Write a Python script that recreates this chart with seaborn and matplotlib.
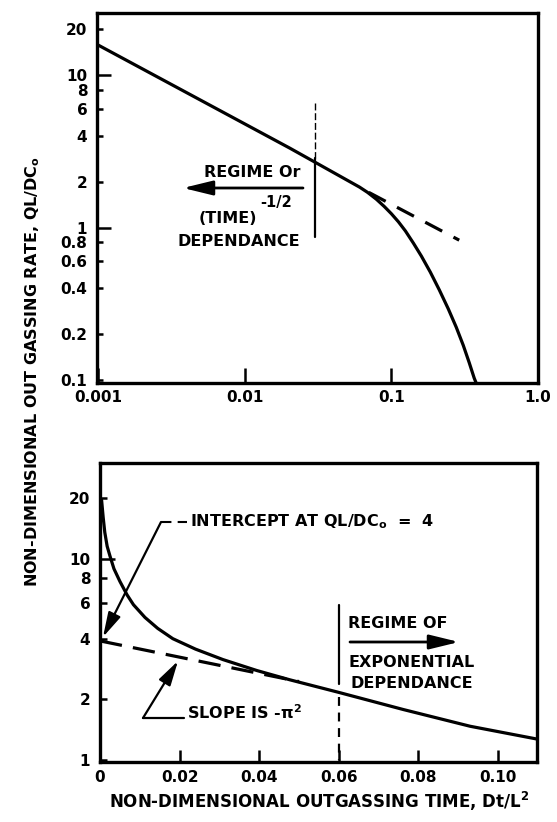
import matplotlib
matplotlib.use("Agg")
import matplotlib.pyplot as plt
import seaborn as sns
import numpy as np
import pandas as pd
from matplotlib.ticker import NullLocator

# ---------------- data ----------------
# Top panel (log-log): outgassing rate vs time
top_t = [0.001, 0.0202, 0.0299, 0.0606, 0.0687, 0.0791, 0.0896, 0.1000, 0.1116,
         0.1245, 0.1412, 0.1600, 0.1842, 0.2121, 0.2442, 0.2768, 0.3090, 0.3394,
         0.3670, 0.3787]
top_rate = [15.7, 3.32, 2.69, 1.84, 1.70, 1.53, 1.37, 1.23, 1.09,
            0.95, 0.79, 0.65, 0.51, 0.39, 0.293, 0.222, 0.169, 0.130,
            0.103, 0.0955]
# continuation of the t^-1/2 line (dashed)
top_asym_t = [0.070, 0.290]
top_asym_rate = [1.70, 0.826]
top_boundary_t = 0.03

top_xticks = [0.001, 0.01, 0.1, 1.0]
top_xticklabels = ["0.001", "0.01", "0.1", "1.0"]
top_yticks_major = [1, 10]
top_yticklabels_major = ["1", "10"]
top_yticks_minor = [0.1, 0.2, 0.4, 0.6, 0.8, 2, 4, 6, 8, 20]
top_yticklabels_minor = ["0.1", "0.2", "0.4", "0.6", "0.8", "2", "4", "6", "8", "20"]

# Bottom panel (semilog): outgassing rate vs time
bot_t = [0.0004, 0.0008, 0.0012, 0.0018, 0.0025, 0.0035, 0.005, 0.0068, 0.0084,
         0.0113, 0.0145, 0.0183, 0.024, 0.0309, 0.0394, 0.0477, 0.0598, 0.0762,
         0.093, 0.1098]
bot_rate = [19.5, 16.0, 13.5, 11.5, 10.3, 8.9, 7.7, 6.6, 5.9,
            5.1, 4.5, 4.0, 3.55, 3.15, 2.78, 2.50, 2.17, 1.78,
            1.47, 1.27]
bot_asym_t = [0.0, 0.05]
bot_asym_rate = [3.9, 2.45]
bot_boundary_t = 0.06

bot_xticks = [0, 0.02, 0.04, 0.06, 0.08, 0.10]
bot_xticklabels = ["0", "0.02", "0.04", "0.06", "0.08", "0.10"]
bot_yticks_major = [10]
bot_yticklabels_major = ["10"]
bot_yticks_minor = [1, 2, 4, 6, 8, 20]
bot_yticklabels_minor = ["1", "2", "4", "6", "8", "20"]

# ---------------- style ----------------
sns.set_theme(style="ticks")
plt.rcParams["font.family"] = ["DejaVu Sans"]
plt.rcParams["font.weight"] = "bold"
plt.rcParams["mathtext.fontset"] = "custom"
plt.rcParams["mathtext.rm"] = "DejaVu Sans:bold"
plt.rcParams["mathtext.it"] = "DejaVu Sans:bold"
plt.rcParams["mathtext.bf"] = "DejaVu Sans:bold"
plt.rcParams["axes.linewidth"] = 2.2
for key in ["text.color", "axes.labelcolor", "xtick.color", "ytick.color",
            "axes.edgecolor"]:
    plt.rcParams[key] = "black"

TICK = 11
ANN = 11.5
LBL = 12
LW = 2.3

fig = plt.figure(figsize=(5.57, 8.22), dpi=100)
W, H = 557, 822
ax1 = fig.add_axes([97 / W, 1 - 383 / H, 441 / W, 370 / H])
ax2 = fig.add_axes([100 / W, 1 - 762 / H, 437 / W, 299 / H])


def tf(px, py):
    return ((px - 97) / 441, (383 - py) / 370)


def bf(px, py):
    return ((px - 100) / 437, (762 - py) / 299)


ARROW_BIG = dict(arrowstyle="-|>,head_length=0.9,head_width=0.22", lw=2,
                 color="black", shrinkA=0, shrinkB=0, mutation_scale=20)
ARROW_SMALL = dict(arrowstyle="-|>,head_length=0.75,head_width=0.2", lw=1.6,
                   color="black", shrinkA=0, shrinkB=0, mutation_scale=20)

# ---------------- top panel ----------------
df_top = pd.DataFrame({"t": top_t, "rate": top_rate})
sns.lineplot(data=df_top, x="t", y="rate", ax=ax1, color="black", lw=LW,
             estimator=None, sort=False)
df_top_a = pd.DataFrame({"t": top_asym_t, "rate": top_asym_rate})
sns.lineplot(data=df_top_a, x="t", y="rate", ax=ax1, color="black", lw=LW,
             estimator=None, sort=False)
ax1.lines[-1].set_dashes([6, 4])

ax1.set_xscale("log")
ax1.set_yscale("log")
ax1.set_xlim(0.00098, 1.0)
ax1.set_ylim(0.0956, 25.5)

# regime boundary
ax1.plot([top_boundary_t] * 2, [6.55, 2.85], color="black", lw=1.0, dashes=[5, 2])
ax1.plot([top_boundary_t] * 2, [2.85, 0.865], color="black", lw=1.6)

ax1.set_xticks(top_xticks)
ax1.set_xticklabels(top_xticklabels)
ax1.xaxis.set_minor_locator(NullLocator())
ax1.set_yticks(top_yticks_major)
ax1.set_yticklabels(top_yticklabels_major)
ax1.set_yticks(top_yticks_minor, minor=True)
ax1.set_yticklabels(top_yticklabels_minor, minor=True)
ax1.tick_params(axis="x", which="major", direction="in", length=11, width=1.8,
                labelsize=TICK, pad=5)
ax1.tick_params(axis="y", which="major", direction="in", length=10, width=1.8,
                labelsize=TICK, pad=7)
ax1.tick_params(axis="y", which="minor", direction="in", length=4, width=1.8,
                labelsize=TICK, pad=7)
ax1.set_xlabel("")
ax1.set_ylabel("")

ax1.text(*tf(301, 172), "REGIME Or", transform=ax1.transAxes, ha="right",
         va="center", fontsize=ANN)
ax1.annotate("", xy=tf(183, 188), xytext=tf(303, 188), xycoords="axes fraction",
             textcoords="axes fraction", arrowprops=ARROW_BIG)
ax1.text(*tf(257, 218), "(TIME)", transform=ax1.transAxes, ha="right",
         va="center", fontsize=ANN)
ax1.text(*tf(260, 202), "-1/2", transform=ax1.transAxes, ha="left",
         va="center", fontsize=ANN - 1)
ax1.text(*tf(300, 241), "DEPENDANCE", transform=ax1.transAxes, ha="right",
         va="center", fontsize=ANN)

# ---------------- bottom panel ----------------
df_bot = pd.DataFrame({"t": bot_t, "rate": bot_rate})
sns.lineplot(data=df_bot, x="t", y="rate", ax=ax2, color="black", lw=LW,
             estimator=None, sort=False)
df_bot_a = pd.DataFrame({"t": bot_asym_t, "rate": bot_asym_rate})
sns.lineplot(data=df_bot_a, x="t", y="rate", ax=ax2, color="black", lw=LW,
             estimator=None, sort=False)
ax2.lines[-1].set_dashes([7, 3.5])

ax2.set_yscale("log")
ax2.set_xlim(0, 0.1098)
ax2.set_ylim(0.977, 29.8)

ax2.plot([bot_boundary_t] * 2, [5.88, 2.38], color="black", lw=1.6)
ax2.plot([bot_boundary_t] * 2, [2.05, 1.0], color="black", lw=1.6, dashes=[4, 3])

ax2.set_xticks(bot_xticks)
ax2.set_xticklabels(bot_xticklabels)
ax2.set_yticks(bot_yticks_major)
ax2.set_yticklabels(bot_yticklabels_major)
ax2.set_yticks(bot_yticks_minor, minor=True)
ax2.set_yticklabels(bot_yticklabels_minor, minor=True)
ax2.tick_params(axis="x", which="major", direction="in", length=9, width=1.8,
                labelsize=TICK, pad=6)
ax2.tick_params(axis="y", which="major", direction="in", length=11, width=1.8,
                labelsize=TICK, pad=7)
ax2.tick_params(axis="y", which="minor", direction="in", length=5, width=1.8,
                labelsize=TICK, pad=7)
ax2.set_xlabel("")
ax2.set_ylabel("")

# intercept annotation
ax2.plot(*zip(bf(161, 522), bf(187, 522)), transform=ax2.transAxes,
         color="black", lw=1.5, dashes=[5, 3])
ax2.text(*bf(190, 522), "INTERCEPT AT QL/DC$_\\mathregular{o}$  =  4",
         transform=ax2.transAxes, ha="left", va="center", fontsize=ANN)
ax2.annotate("", xy=bf(103, 637), xytext=bf(161, 522), xycoords="axes fraction",
             textcoords="axes fraction", arrowprops=ARROW_SMALL)

# slope annotation
ax2.text(*bf(187, 713), "SLOPE IS -\u03c0$^\\mathregular{2}$", transform=ax2.transAxes,
         ha="left", va="center", fontsize=ANN)
ax2.plot(*zip(bf(143, 718), bf(184, 718)), transform=ax2.transAxes,
         color="black", lw=1.6)
ax2.annotate("", xy=bf(178, 661), xytext=bf(143, 718), xycoords="axes fraction",
             textcoords="axes fraction", arrowprops=ARROW_SMALL)

# exponential regime
ax2.text(*bf(348, 623), "REGIME OF", transform=ax2.transAxes, ha="left",
         va="center", fontsize=ANN)
ax2.annotate("", xy=bf(459, 642), xytext=bf(350, 642), xycoords="axes fraction",
             textcoords="axes fraction", arrowprops=ARROW_BIG)
ax2.text(*bf(348, 662), "EXPONENTIAL", transform=ax2.transAxes, ha="left",
         va="center", fontsize=ANN)
ax2.text(*bf(350, 683), "DEPENDANCE", transform=ax2.transAxes, ha="left",
         va="center", fontsize=ANN)

for ax in (ax1, ax2):
    for s in ax.spines.values():
        s.set_linewidth(2.4)
        s.set_color("black")

# axis titles
fig.text(33 / W, 1 - 372 / H, "NON-DIMENSIONAL OUT GASSING RATE, QL/DC$_\\mathregular{o}$",
         rotation=90, ha="center", va="center", fontsize=LBL - 0.5)
fig.text(319 / W, 1 - 801 / H, "NON-DIMENSIONAL OUTGASSING TIME, Dt/L$^\\mathregular{2}$",
         ha="center", va="center", fontsize=LBL)

fig.savefig("out.png", dpi=100, facecolor="white")
